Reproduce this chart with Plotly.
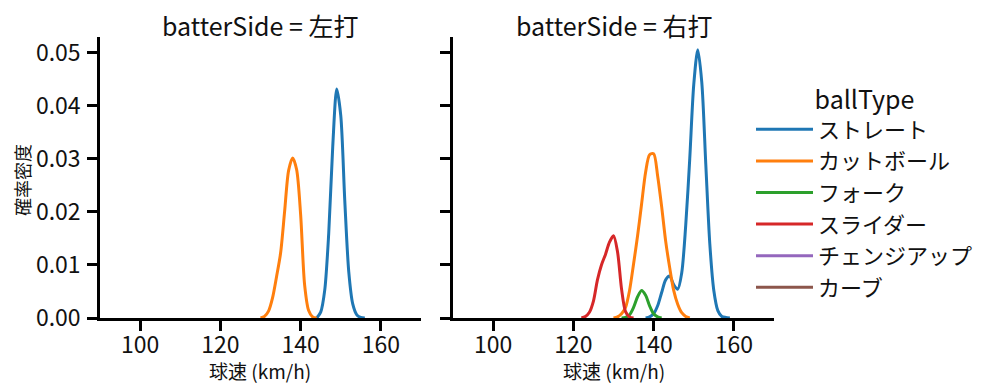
import plotly.graph_objects as go

# ---------------- data ----------------
ball_types = ["ストレート", "カットボール", "フォーク", "スライダー", "チェンジアップ", "カーブ"]
colors = ["#1f77b4", "#ff7f0e", "#2ca02c", "#d62728", "#9467bd", "#8c564b"]
panel_titles = ["batterSide = 左打", "batterSide = 右打"]

# left panel (左打)
left_straight_x = [144, 145, 146, 147, 148, 149, 150, 151, 152, 153, 154, 155, 156]
left_straight_y = [0.0, 0.0011, 0.0052, 0.0159, 0.0323, 0.0432, 0.0382, 0.0222, 0.0087, 0.0026, 0.0006, 0.0001, 0.0]
left_cutter_x = [130, 131, 132, 133, 134, 135, 136, 137, 138, 139, 140, 141, 142, 143, 144]
left_cutter_y = [0.0, 0.0003, 0.0013, 0.0038, 0.0078, 0.0122, 0.0200, 0.0278, 0.0302, 0.0280, 0.0195, 0.0062, 0.0014, 0.0002, 0.0]

# right panel (右打)
right_straight_x = [138, 139, 140, 141, 142, 143, 144, 145, 146, 147, 148, 149, 150, 151, 152, 153, 154, 155, 156, 157, 158, 159]
right_straight_y = [0.0, 0.0002, 0.0008, 0.0023, 0.0048, 0.0072, 0.0079, 0.0063, 0.0054, 0.0085, 0.0175, 0.0300, 0.0440, 0.0506, 0.0445, 0.0290, 0.0140, 0.0052, 0.0014, 0.0003, 0.0001, 0.0]
right_cutter_x = [130, 131, 132, 133, 134, 135, 136, 137, 138, 139, 140, 141, 142, 143, 144, 145, 146, 147, 148, 149]
right_cutter_y = [0.0, 0.0002, 0.0008, 0.0020, 0.0052, 0.0102, 0.0155, 0.0215, 0.0275, 0.0308, 0.0310, 0.0268, 0.0210, 0.0145, 0.0095, 0.0052, 0.0026, 0.0010, 0.0003, 0.0]
right_fork_x = [132, 133, 134, 135, 136, 137, 138, 139, 140, 141, 142]
right_fork_y = [0.0, 0.0001, 0.0006, 0.0020, 0.0040, 0.0052, 0.0043, 0.0023, 0.0008, 0.0002, 0.0]
right_slider_x = [122, 123, 124, 125, 126, 127, 128, 129, 130, 131, 132, 133, 134, 135]
right_slider_y = [0.0, 0.0003, 0.0011, 0.0032, 0.0072, 0.0100, 0.0120, 0.0143, 0.0155, 0.0125, 0.0055, 0.0012, 0.0002, 0.0]

x_range = [90, 170]
y_range = [0, 0.053]
x_ticks = [100, 120, 140, 160]
y_ticks = [0.00, 0.01, 0.02, 0.03, 0.04, 0.05]
x_title = "球速 (km/h)"
y_title = "確率密度"
legend_title = "ballType"

# ---------------- figure ----------------
FONT = "Noto Sans CJK JP"
OFF = 8                      # page body margin
W, H = 999 - 2 * OFF, 391 - 2 * OFF

def px(x):                   # screen x -> paper fraction
    return (x - OFF) / W

def py(y):                   # screen y -> paper fraction
    return 1 - (y - OFF) / H

fig = go.Figure()

def add_curve(x, y, idx, xaxis, yaxis, show):
    fig.add_trace(go.Scatter(
        x=x, y=y, mode="lines", name=ball_types[idx],
        line=dict(color=colors[idx], width=3, shape="spline", smoothing=0.8),
        xaxis=xaxis, yaxis=yaxis, showlegend=show, legendgroup=str(idx),
        hoverinfo="skip",
    ))

add_curve(left_straight_x, left_straight_y, 0, "x", "y", True)
add_curve(left_cutter_x, left_cutter_y, 1, "x", "y", True)
add_curve(right_straight_x, right_straight_y, 0, "x2", "y2", False)
add_curve(right_cutter_x, right_cutter_y, 1, "x2", "y2", False)
add_curve(right_fork_x, right_fork_y, 2, "x2", "y2", True)
add_curve(right_slider_x, right_slider_y, 3, "x2", "y2", True)
# legend-only entries (no curve drawn in the picture)
for i in (4, 5):
    fig.add_trace(go.Scatter(x=[None], y=[None], mode="lines", name=ball_types[i],
                             line=dict(color=colors[i], width=3),
                             xaxis="x2", yaxis="y2", legendgroup=str(i)))

axis_common = dict(
    showgrid=False, zeroline=False, showline=True, linecolor="black", linewidth=2.5,
    ticks="outside", ticklen=10, tickwidth=2.5, tickcolor="black", automargin=False,
    tickfont=dict(family=FONT, size=23, color="#111"),
)
y_dom = [py(318), py(37)]
fig.update_layout(
    width=W, height=H,
    margin=dict(l=0, r=0, t=0, b=0, autoexpand=False),
    paper_bgcolor="white", plot_bgcolor="white",
    font=dict(family=FONT, color="#111"),
    xaxis=dict(domain=[px(100), px(421)], range=x_range, tickvals=x_ticks, anchor="y",
               ticklabelstandoff=-5, **axis_common),
    yaxis=dict(domain=y_dom, range=y_range, tickvals=y_ticks, tickformat=".2f", anchor="x",
               ticklabelstandoff=2, **axis_common),
    xaxis2=dict(domain=[px(453), px(774)], range=x_range, tickvals=x_ticks, anchor="y2",
                ticklabelstandoff=-5, **axis_common),
    yaxis2=dict(domain=y_dom, range=y_range, tickvals=y_ticks, showticklabels=False, anchor="x2",
                **axis_common),
    legend=dict(
        x=px(751), y=py(76), xanchor="left", yanchor="top",
        title=dict(text=legend_title, side="top center", font=dict(family=FONT, size=25)),
        font=dict(family=FONT, size=22), tracegroupgap=0, itemwidth=57,
        bgcolor="rgba(0,0,0,0)",
    ),
)

for t, xc in zip(panel_titles, [(100 + 421) / 2, (453 + 774) / 2]):
    fig.add_annotation(text=t, x=px(xc), y=py(25), xref="paper", yref="paper",
                       showarrow=False, font=dict(family=FONT, size=25, color="#111"),
                       xanchor="center", yanchor="middle", borderpad=0)
for xc in [(100 + 421) / 2, (453 + 774) / 2]:
    fig.add_annotation(text=x_title, x=px(xc), y=py(370), xref="paper", yref="paper",
                       showarrow=False, font=dict(family=FONT, size=19, color="#111"),
                       xanchor="center", yanchor="middle", borderpad=0)
fig.add_annotation(text=y_title, x=px(22), y=py(180), xref="paper", yref="paper",
                   showarrow=False, textangle=-90, font=dict(family=FONT, size=18, color="#111"),
                   xanchor="center", yanchor="middle", borderpad=0)

fig.write_html("out.html")
